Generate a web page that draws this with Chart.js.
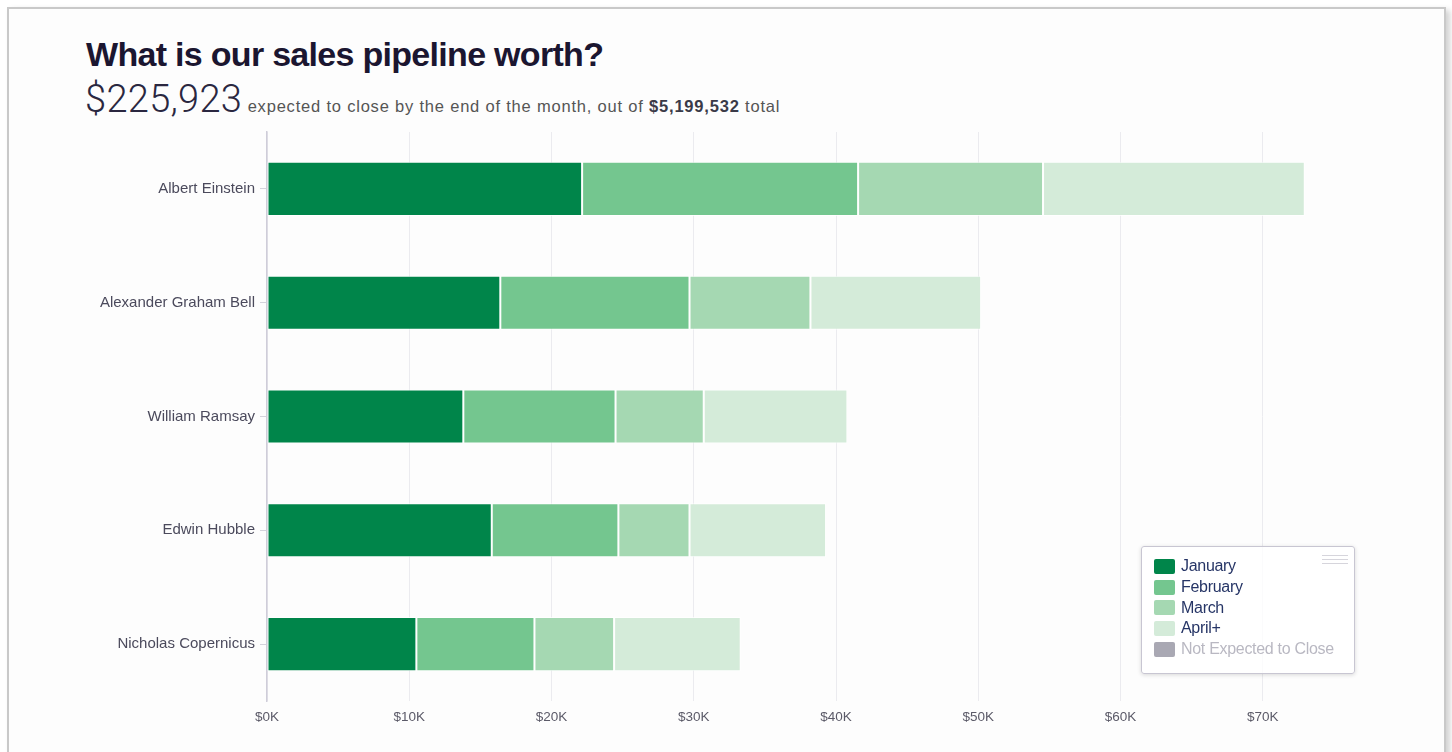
<!DOCTYPE html>
<html lang="en">
<head>
<meta charset="UTF-8">
<title>What is our sales pipeline worth?</title>
<script src="https://cdn.jsdelivr.net/npm/chart.js@4.4.1/dist/chart.umd.min.js"></script>
<style>
  html, body {
    margin: 0;
    padding: 0;
    background: #fff;
    width: 1452px;
    height: 752px;
    overflow: hidden;
    font-family: 'Liberation Sans', Arial, sans-serif;
  }
  #frame {
    position: absolute;
    left: 7px;
    top: 7px;
    width: 1435px;
    height: 800px;
    border: 2px solid #c9c9c9;
    box-shadow: 4px 3px 6px rgba(0,0,0,0.18);
    background: #fdfdfd;
  }
  #title {
    position: absolute;
    left: 86px;
    top: 35px;
    font-size: 34px;
    font-weight: bold;
    color: #1b1630;
    letter-spacing: -0.7px;
  }
  #subtitle {
    position: absolute;
    left: 85px;
    top: 77px;
    color: #555;
    font-size: 16.5px;
    letter-spacing: 0.8px;
    white-space: nowrap;
  }
  #subtitle .big {
    font-family: Roboto, 'Liberation Sans', sans-serif;
    font-weight: 300;
    font-size: 38px;
    letter-spacing: 0.3px;
    color: #2a2740;
  }
  #subtitle b { color: #3a3a48; }
  #chartBox {
    position: absolute;
    left: 20px;
    top: 118px;
    width: 1330px;
    height: 615px;
  }
  #legend {
    position: absolute;
    left: 1141px;
    top: 546px;
    width: 214px;
    height: 128px;
    border: 1.5px solid #c8c6d2;
    border-radius: 3px;
    background: rgba(255,255,255,0.8);
    box-shadow: 0 1px 4px rgba(0,0,0,0.15);
    box-sizing: border-box;
    padding: 9px 0 0 12px;
  }
  #legend .row {
    height: 20.7px;
    display: flex;
    align-items: center;
    font-size: 16px;
    color: #263566;
    font-family: 'Liberation Sans', Arial, sans-serif;
    letter-spacing: -0.3px;
  }
  #legend .sw {
    width: 21px;
    height: 15px;
    border-radius: 2px;
    margin-right: 6px;
  }
  #legend .off { color: #b9b8c2; }
  #grip {
    position: absolute;
    right: 6px;
    top: 8px;
    width: 26px;
    height: 7px;
    border-top: 1px solid #d6d5dc;
    border-bottom: 1px solid #d6d5dc;
  }
  #grip:after {
    content: '';
    position: absolute;
    left: 0; right: 0; top: 3px;
    border-top: 1px solid #d6d5dc;
  }
</style>
</head>
<body>
<div id="frame"></div>
<div id="title">What is our sales pipeline worth?</div>
<div id="subtitle"><span class="big">$225,923</span> expected to close by the end of the month, out of <b>$5,199,532</b> total</div>
<div id="chartBox"><canvas id="myChart"></canvas></div>
<div id="legend"><div id="grip"></div></div>
<script>
  // sales reps
  const reps = ['Albert Einstein', 'Alexander Graham Bell', 'William Ramsay', 'Edwin Hubble', 'Nicholas Copernicus'];

  // expected to close, in dollars
  const january  = [22150, 16400, 13800, 15800, 10500];
  const february = [19400, 13300, 10700,  8900,  8300];
  const march    = [13000,  8500,  6200,  5000,  5600];
  const aprilPlus = [18400, 12000, 10100,  9600,  8900];
  const notExpected = [];

  const seriesNames = ['January', 'February', 'March', 'April+', 'Not Expected to Close'];
  const seriesColors = ['#00854a', '#74c68f', '#a5d8b2', '#d4ebd9', '#a9a8b3'];
  const xTicks = [0, 10000, 20000, 30000, 40000, 50000, 60000, 70000];

  const seriesData = [january, february, march, aprilPlus, notExpected];

  const datasets = seriesNames.map(function(name, i) {
    return {
      label: name,
      data: seriesData[i],
      backgroundColor: seriesColors[i],
      borderColor: 'rgba(255,255,255,0.75)',
      borderWidth: 1,
      borderSkipped: false,
      barPercentage: 0.95,
      categoryPercentage: 0.5,
      hidden: i === 4
    };
  });

  // html legend, built from the same names and colours
  const legendEl = document.getElementById('legend');
  seriesNames.forEach(function(name, i) {
    const row = document.createElement('div');
    row.className = 'row' + (i === 4 ? ' off' : '');
    row.innerHTML = '<span class="sw" style="background:' + seriesColors[i] + '"></span>' + name;
    legendEl.appendChild(row);
  });

  var ctx = document.getElementById('myChart');
  var myChart = new Chart(ctx, {
    type: 'bar',
    data: {
      labels: reps,
      datasets: datasets
    },
    options: {
      indexAxis: 'y',
      responsive: true,
      maintainAspectRatio: false,
      animation: false,
      layout: {
        padding: {top: 6, right: 26, left: 0, bottom: 0}
      },
      scales: {
        x: {
          stacked: true,
          min: 0,
          max: 74300,
          afterBuildTicks: function(scale) {
            scale.ticks = xTicks.map(function(v) { return {value: v}; });
          },
          afterFit: function(scale) { scale.height = 32; },
          ticks: {
            color: '#5b5a68',
            font: {size: 13.5, family: "'Liberation Sans', Arial, sans-serif"},
            padding: 8,
            callback: function(value) {
              return '$' + (value / 1000) + 'K';
            }
          },
          grid: {
            color: '#ebebef',
            lineWidth: 1,
            tickLength: 0
          },
          border: {display: false}
        },
        y: {
          stacked: true,
          afterFit: function(scale) { scale.width = 247; },
          ticks: {
            color: '#4b4a5c',
            font: {size: 15, family: "'Liberation Sans', Arial, sans-serif"},
            padding: 5
          },
          grid: {
            offset: false,
            drawOnChartArea: false,
            tickLength: 7,
            color: '#d4d3dc'
          },
          border: {color: '#cfcdd9', width: 1.5}
        }
      },
      plugins: {
        legend: {display: false},
        tooltip: {enabled: false}
      }
    }
  });
</script>
</body>
</html>
